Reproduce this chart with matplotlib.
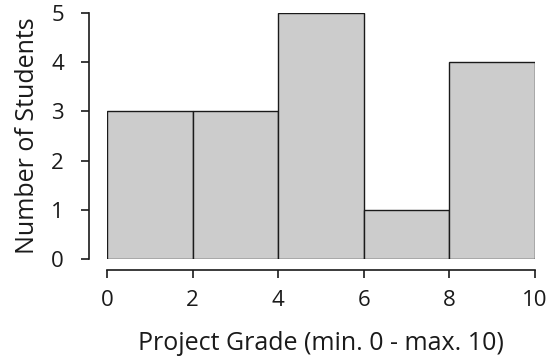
import matplotlib
matplotlib.use("Agg")
import matplotlib.pyplot as plt

# histogram bins and counts
bin_edges = [0, 2, 4, 6, 8, 10]
counts = [3, 3, 5, 1, 4]
x_ticks = [0, 2, 4, 6, 8, 10]
y_ticks = [0, 1, 2, 3, 4, 5]

plt.rcParams['font.family'] = ['Open Sans', 'DejaVu Sans']

fig = plt.figure(figsize=(5.5, 3.6), dpi=100)
ax = fig.add_axes([107 / 550, 1 - 259 / 360, 428 / 550, 246 / 360])

widths = [bin_edges[i + 1] - bin_edges[i] for i in range(len(counts))]
ax.bar(bin_edges[:-1], counts, width=widths, align='edge',
       color='#cccccc', edgecolor='#1a1a1a', linewidth=1.0)

ax.set_xlim(0, 10)
ax.set_ylim(0, 5)
ax.set_xticks(x_ticks)
ax.set_yticks(y_ticks)
ax.set_yticklabels([str(v) for v in y_ticks], rotation=90, va='center')

for s in ['top', 'right']:
    ax.spines[s].set_visible(False)
ax.spines['left'].set_position(('outward', 13))
ax.spines['bottom'].set_position(('outward', 8))
ax.spines['left'].set_bounds(0, 5)
ax.spines['bottom'].set_bounds(0, 10)
for s in ['left', 'bottom']:
    ax.spines[s].set_linewidth(1.2)
    ax.spines[s].set_color('#1a1a1a')

ax.tick_params(axis='both', length=6, width=1.2, color='#1a1a1a',
               labelsize=16, labelcolor='#1a1a1a')
ax.tick_params(axis='x', pad=8)
ax.tick_params(axis='y', pad=12)

ax.set_xlabel('Project Grade (min. 0 - max. 10)', fontsize=18, color='#1a1a1a', labelpad=15)
ax.set_ylabel('Number of Students', fontsize=18, color='#1a1a1a', labelpad=8)

fig.savefig('out.png', dpi=100)
